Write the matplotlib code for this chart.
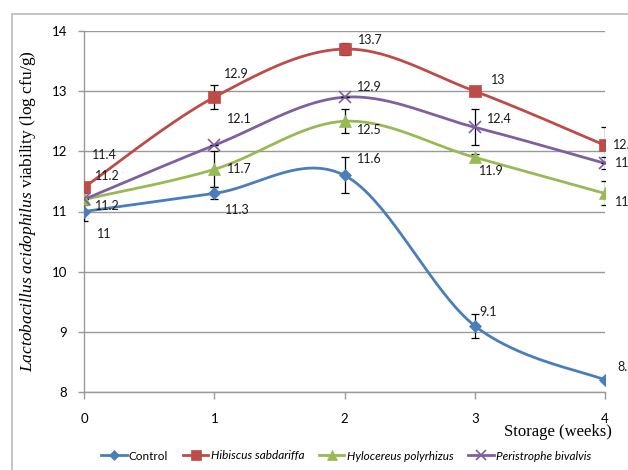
import numpy as np
import matplotlib
matplotlib.use("Agg")
from matplotlib import pyplot as plt
from matplotlib.patches import Rectangle
from matplotlib.lines import Line2D

weeks = [0, 1, 2, 3, 4]
control = [11.0, 11.3, 11.6, 9.1, 8.2]
hibiscus = [11.4, 12.9, 13.7, 13.0, 12.1]
hylocereus = [11.2, 11.7, 12.5, 11.9, 11.3]
peristrophe = [11.2, 12.1, 12.9, 12.4, 11.8]

control_err = [0.15, 0.1, 0.3, 0.2, 0.0]
hibiscus_err = [0.05, 0.2, 0.1, 0.0, 0.3]
hylocereus_err = [0.1, 0.3, 0.2, 0.05, 0.2]
peristrophe_err = [0.0, 0.0, 0.0, 0.3, 0.1]

names = ["Control", "Hibiscus sabdariffa", "Hylocereus polyrhizus", "Peristrophe bivalvis"]
labels_control = ["11", "11.3", "11.6", "9.1", "8.2"]
labels_hibiscus = ["11.4", "12.9", "13.7", "13", "12.1"]
labels_hylocereus = ["11.2", "11.7", "12.5", "11.9", "11.3"]
labels_peristrophe = ["11.2", "12.1", "12.9", "12.4", "11.8"]

plt.rcParams["mathtext.fontset"] = "custom"
plt.rcParams["mathtext.rm"] = "Liberation Serif"
plt.rcParams["mathtext.it"] = "Liberation Serif:italic"

UI_FONT = "Lato"


def smooth(xs, ys, n=40):
    # Bezier smoothing through every point, like office chart "smoothed line"
    p = np.column_stack([xs, ys]).astype(float)
    pts = np.vstack([p[0], p, p[-1]])
    out = []
    for i in range(1, len(pts) - 2):
        p0, p1, p2, p3 = pts[i - 1], pts[i], pts[i + 1], pts[i + 2]
        b1 = p1 + (p2 - p0) / 6.0
        b2 = p2 - (p3 - p1) / 6.0
        t = np.linspace(0, 1, n)[:, None]
        seg = ((1 - t) ** 3) * p1 + 3 * ((1 - t) ** 2) * t * b1 + 3 * (1 - t) * t ** 2 * b2 + t ** 3 * p2
        out.append(seg if i == 1 else seg[1:])
    c = np.vstack(out)
    return c[:, 0], c[:, 1]


fig = plt.figure(figsize=(6.28, 4.70), dpi=100)
fig.patches.append(Rectangle((12 / 628, -0.2), 1.2, 1.2 - 14 / 470,
                             transform=fig.transFigure, fill=False,
                             edgecolor="#bfbfbf", linewidth=1.3))
ax = fig.add_axes([84 / 628, 1 - 392 / 470, 521 / 628, 361 / 470])

# label offsets in points from each marker
series = [
    (control, control_err, labels_control, "#4a7ebb", "D", 6,
     [(9, -16), (8, -12), (9, 12), (3, 10), (9, 9)]),
    (hibiscus, hibiscus_err, labels_hibiscus, "#be4b48", "s", 8,
     [(6, 23), (7, 17), (10, 6.5), (11.5, 8), (6, 0)]),
    (hylocereus, hylocereus_err, labels_hylocereus, "#98b954", "^", 8,
     [(8, -5), (9, 0), (9, -6), (3, -10), (7, -6)]),
    (peristrophe, peristrophe_err, labels_peristrophe, "#7d60a0", "x", 8,
     [(8, 17), (9, 19), (9, 7), (9, 6), (7, 0)]),
]

for vals, err, labs, color, marker, ms, offs in series:
    sx, sy = smooth(weeks, vals)
    ax.plot(sx, sy, color=color, linewidth=2.0, zorder=3, solid_capstyle="round")
    ax.errorbar(weeks, vals, yerr=err, fmt="none", ecolor="black",
                elinewidth=0.9, capsize=3, capthick=0.9, zorder=4)
    ax.plot(weeks, vals, linestyle="none", marker=marker, markersize=ms,
            color=color, markeredgecolor=color,
            markeredgewidth=1.2 if marker == "x" else 0.5, zorder=5)
    for x, v, t, (dx, dy) in zip(weeks, vals, labs, offs):
        ax.annotate(t, (x, v), xytext=(dx, dy), textcoords="offset points",
                    fontsize=9, family=UI_FONT, color="#1a1a1a",
                    ha="left", va="center", annotation_clip=False, zorder=6)

ax.set_xlim(0, 4)
ax.set_ylim(8, 14)
ax.set_xticks(weeks)
ax.set_yticks(range(8, 15))
ax.grid(axis="y", color="#999999", linewidth=1.0)
ax.set_axisbelow(True)
for side in ["top", "right"]:
    ax.spines[side].set_visible(False)
for side in ["left", "bottom"]:
    ax.spines[side].set_color("#999999")
    ax.spines[side].set_linewidth(1.0)
ax.tick_params(axis="x", direction="out", length=5, width=1.0, color="#999999", pad=10,
               labelsize=9.5)
ax.tick_params(axis="y", direction="out", length=4, width=1.0, color="#999999", pad=8,
               labelsize=9.5)
for lab in ax.get_xticklabels() + ax.get_yticklabels():
    lab.set_family(UI_FONT)

ax.set_ylabel(r"$\mathit{Lactobacillus\ acidophilus}$ viability (log cfu/g)",
              family="Liberation Serif", fontsize=12.5, labelpad=10)
fig.text(612 / 628, 1 - 432 / 470, "Storage (weeks)", family="Liberation Serif",
         fontsize=12, ha="right", va="center")

handles = []
for (vals, err, labs, color, marker, ms, offs), name in zip(series, names):
    handles.append(Line2D([], [], color=color, linewidth=2.0, marker=marker,
                          markersize=ms - 1, markeredgecolor=color,
                          markeredgewidth=1.2 if marker == "x" else 0.5))
leg = fig.legend(handles, names, loc="center", bbox_to_anchor=(346 / 628, 1 - 456 / 470),
                 ncol=4, frameon=False, handlelength=2.2, handletextpad=0.2,
                 columnspacing=1.2, prop={"family": UI_FONT, "size": 8.5})
for i, txt in enumerate(leg.get_texts()):
    if i > 0:
        txt.set_style("italic")

fig.savefig("out.png", dpi=100)
